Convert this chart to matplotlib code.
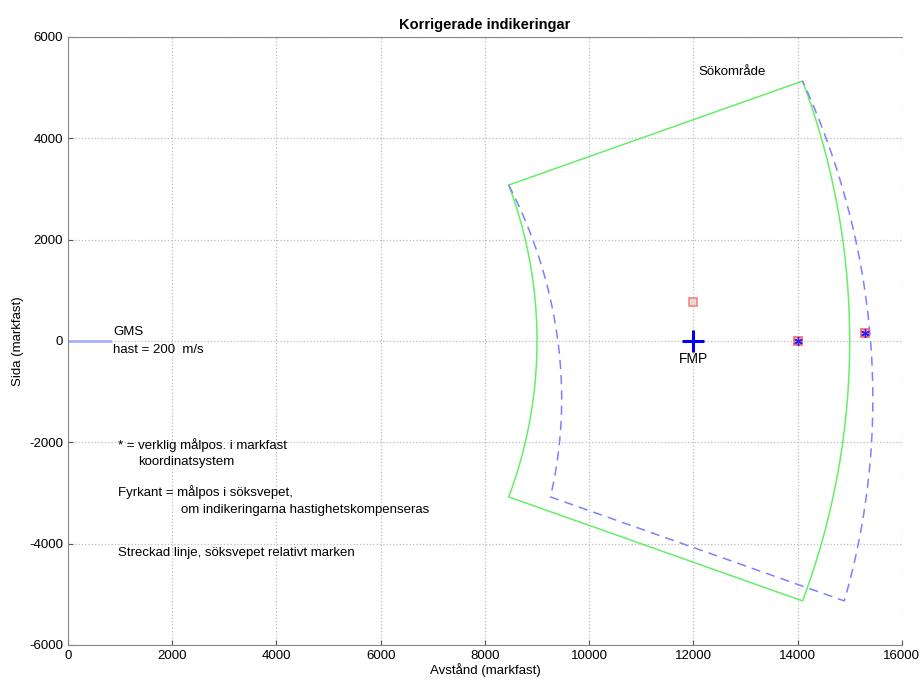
import numpy as np
import matplotlib.pyplot as plt

plt.rcParams['font.family'] = ['Liberation Sans', 'DejaVu Sans']
plt.rcParams['axes.unicode_minus'] = False

# sökområde (sektor kring origo)
r_inner = 9000
r_outer = 15000
vinkel_max = 20      # grader, sveper från +20 till -20
gms_fart = 200       # m/s
svep_tid = 4         # s

# mål
fmp_x, fmp_y = 12000, 0
sann_x = [14000, 15300]
sann_y = [0, 160]
fyrkant_x = [12000, 14000, 15300]
fyrkant_y = [760, 0, 160]

gms_x = [0, 800]
gms_y = [0, 0]


def sektor(forskjutning, stang=True):
    v = np.radians(np.linspace(vinkel_max, -vinkel_max, 100))
    dx = forskjutning * (vinkel_max - np.degrees(v)) / (2 * vinkel_max)
    xi = r_inner * np.cos(v) + dx
    yi = r_inner * np.sin(v)
    xo = r_outer * np.cos(v[::-1]) + dx[::-1]
    yo = r_outer * np.sin(v[::-1])
    x = np.concatenate([xi, xo])
    y = np.concatenate([yi, yo])
    if stang:
        x = np.append(x, xi[0])
        y = np.append(y, yi[0])
    return x, y


fig = plt.figure(figsize=(9.24, 6.81), dpi=100)
ax = fig.add_axes([0.0736, 0.0529, 0.9024, 0.8928])

x, y = sektor(0)
ax.plot(x, y, color='#66ee66', lw=1.1)
x, y = sektor(gms_fart * svep_tid, stang=False)
ax.plot(x, y, color='#7f7fff', lw=1.1, ls=(0, (6, 4)))

ax.plot(gms_x, gms_y, color='#aab0ff', lw=2)
ax.plot(fmp_x, fmp_y, '+', color='#0000ee', ms=16, mew=2.2)
ax.text(fmp_x, fmp_y - 220, 'FMP', ha='center', va='top', fontsize=10)

ax.plot(fyrkant_x[1:], fyrkant_y[1:], 's', mfc='#ffc0c0', mec='#ff6060', ms=6, mew=1.2)
ax.plot(fyrkant_x[:1], fyrkant_y[:1], 's', mfc='#dddddd', mec='#ff8080', ms=6, mew=1.2)
ax.plot(sann_x, sann_y, marker=(6, 2, 0), ls='none', color='#2020ff', ms=6, mew=1)

ax.text(870, 170, 'GMS', fontsize=9.5, va='center')
ax.text(870, -180, 'hast = 200  m/s', fontsize=9.5, va='center')
ax.text(12100, 5300, 'Sökområde', fontsize=9.5, va='center')

ax.text(960, -2050, '* = verklig målpos. i markfast', fontsize=9.5, va='center')
ax.text(1340, -2390, 'koordinatsystem', fontsize=9.5, va='center')
ax.text(960, -2990, 'Fyrkant = målpos i söksvepet,', fontsize=9.5, va='center')
ax.text(2170, -3330, 'om indikeringarna hastighetskompenseras', fontsize=9.5, va='center')
ax.text(960, -4180, 'Streckad linje, söksvepet relativt marken', fontsize=9.5, va='center')

ax.set_xlim(0, 16000)
ax.set_ylim(-6000, 6000)
ax.set_xticks(np.arange(0, 16001, 2000))
ax.set_yticks(np.arange(-6000, 6001, 2000))
ax.grid(True, ls=':', color='#bbbbbb', lw=0.9)
ax.tick_params(direction='in', labelsize=9.5, colors='#555555', labelcolor='black')
for s in ['left', 'bottom', 'top']:
    ax.spines[s].set_color('#888888')
ax.spines['right'].set_visible(False)

ax.set_title('Korrigerade indikeringar', fontsize=10.5, fontweight='bold')
ax.set_xlabel('Avstånd (markfast)', fontsize=9.5, labelpad=1)
ax.set_ylabel('Sida (markfast)', fontsize=9.5)

fig.savefig('out.png', dpi=100)
